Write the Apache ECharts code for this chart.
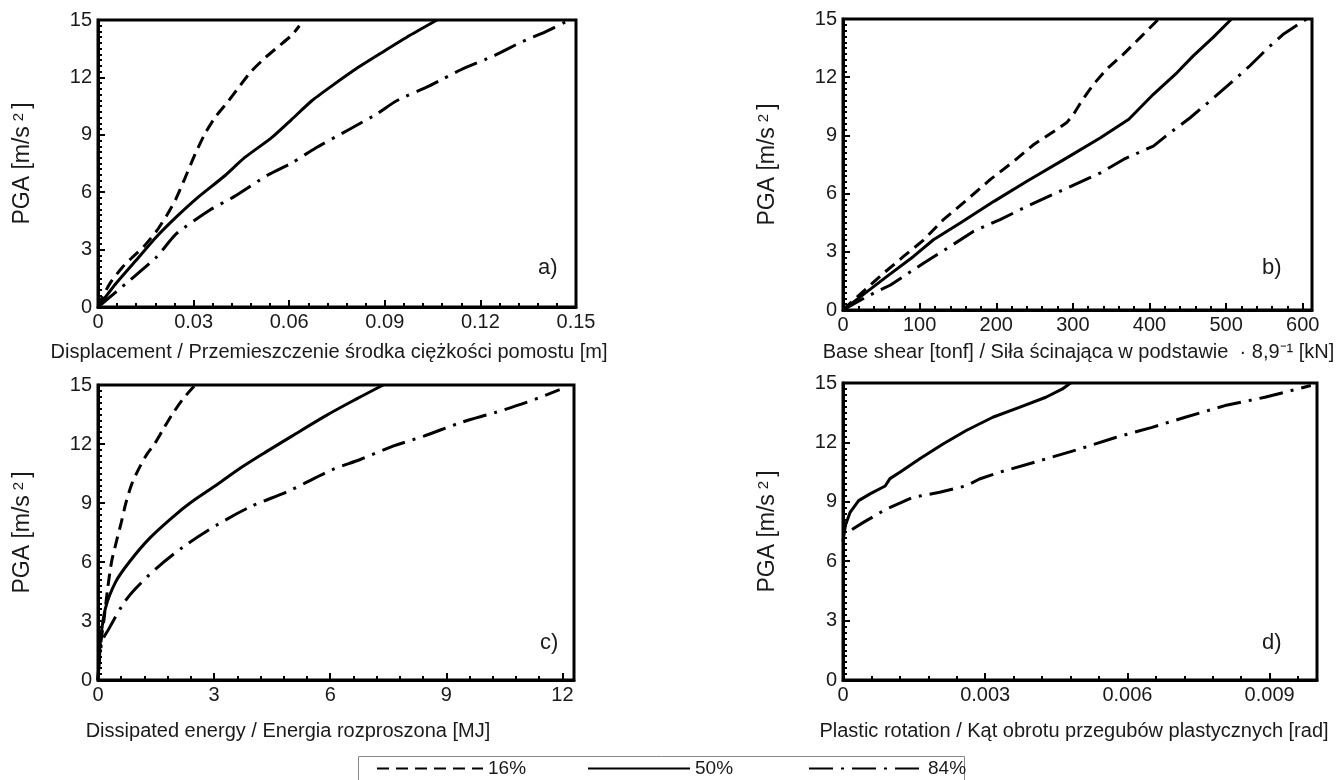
<!DOCTYPE html>
<html><head><meta charset="utf-8">
<script src="https://cdn.jsdelivr.net/npm/echarts@6/dist/echarts.min.js"></script>
<style>html,body{margin:0;padding:0;background:#fff}#c{width:1337px;height:780px}</style>
</head><body><div id="c"></div>
<script>
// ---- Panel a: displacement [m] ----
const aX16 = [0,0.0013,0.004,0.0076,0.0108,0.0146,0.0185,0.0216,0.0243,0.0272,0.0305,0.0337,0.0369,0.0406,0.0438,0.0480,0.0523,0.0565,0.0608,0.0632];
const aY16 = [0,0.5,1.3,2.07,2.6,3.2,4.0,4.8,5.6,6.7,8.0,9.1,9.95,10.7,11.4,12.3,13.0,13.6,14.2,14.7];
const aX50 = [0,0.0055,0.0119,0.0183,0.0246,0.031,0.0395,0.0459,0.0544,0.0608,0.0671,0.0735,0.081,0.0894,0.0979,0.1064];
const aY50 = [0,1.2,2.43,3.66,4.71,5.68,6.82,7.79,8.84,9.81,10.78,11.57,12.45,13.33,14.2,15.0];
const aX84 = [0,0.0098,0.0183,0.0246,0.035,0.0427,0.0533,0.0608,0.0682,0.0788,0.0873,0.0937,0.1033,0.1086,0.1139,0.1245,0.133,0.1404,0.1479];
const aY84 = [0,1.37,2.6,3.83,5.06,5.77,6.9,7.53,8.3,9.28,10.07,10.78,11.5,11.95,12.4,13.15,13.86,14.38,15];
// ---- Panel b: base shear ----
const bX16 = [0,7,31,53,79,105,131,162,192,223,249,275,292,301,312,327,344,366,388,412];
const bY16 = [0,0.26,1.12,1.9,2.76,3.6,4.66,5.69,6.72,7.67,8.53,9.2,9.66,10.1,10.8,11.64,12.41,13.19,14.05,15];
const bX50 = [0,23,57,92,118,153,197,240,292,336,373,405,436,457,483,507];
const bY50 = [0,0.69,1.72,2.76,3.62,4.48,5.6,6.64,7.84,8.88,9.83,11.12,12.24,13.1,14.05,15];
const bX84 = [0,31,62,105,140,170,205,240,288,336,366,405,427,453,479,509,531,553,574,605];
const bY84 = [0,0.69,1.29,2.41,3.28,4.05,4.66,5.34,6.21,7.07,7.76,8.45,9.14,9.91,10.78,11.81,12.59,13.45,14.2,15];
// ---- Panel c: dissipated energy [MJ] ----
const cX16 = [0,0.03,0.08,0.15,0.24,0.35,0.47,0.60,0.72,0.88,1.07,1.27,1.46,1.70,1.95,2.2,2.51];
const cY16 = [0,1.0,2.0,3.0,4.5,6.0,7.0,8.0,9.0,10.0,10.8,11.5,12.0,12.8,13.6,14.3,15];
const cX50 = [0,0.06,0.19,0.46,0.81,1.33,1.94,2.38,3.08,3.7,4.31,5.01,5.88,6.67,7.37];
const cY50 = [0,1.93,3.63,5.0,6.0,7.2,8.3,9.0,9.94,10.8,11.56,12.4,13.43,14.28,15];
const cX84 = [0,0.1,0.28,0.63,0.89,1.51,2.21,3.08,3.96,4.92,6.06,6.76,7.64,8.42,9.39,10.26,11.05,11.93];
const cY84 = [0,1.93,2.6,3.8,4.48,5.68,6.78,7.89,8.83,9.6,10.7,11.2,11.9,12.4,13.1,13.6,14.1,14.76];
// ---- Panel d: plastic rotation [rad] ----
const dX50 = [0,0.00005,0.00015,0.00033,0.00057,0.00089,0.00099,0.0012,0.00162,0.00211,0.0026,0.00316,0.00372,0.00428,0.00463,0.0048];
const dY50 = [7.0,7.8,8.47,9.06,9.4,9.8,10.17,10.49,11.17,11.92,12.6,13.27,13.77,14.28,14.7,15];
const dX84 = [0.00019,0.00043,0.00092,0.00148,0.00204,0.0026,0.00288,0.0033,0.00414,0.00498,0.00575,0.00652,0.00722,0.00806,0.0089,0.00987];
const dY84 = [7.6,7.96,8.64,9.23,9.48,9.81,10.15,10.49,11.07,11.66,12.25,12.76,13.27,13.86,14.28,14.87];

// ---- tick labels ----
const yTicks = ['0','3','6','9','12','15'];
const aTicks = ['0','0.03','0.06','0.09','0.12','0.15'];
const bTicks = ['0','100','200','300','400','500','600'];
const cTicks = ['0','3','6','9','12'];
const dTicks = ['0','0.003','0.006','0.009'];

const seriesNames = ['16%','50%','84%'];
const panelLetters = ['a)','b)','c)','d)'];
const xTitles = [
  'Displacement / Przemieszczenie środka ciężkości pomostu [m]',
  'Base shear [tonf] / Siła ścinająca w podstawie  · 8,9⁻¹ [kN]',
  'Dissipated energy / Energia rozproszona [MJ]',
  'Plastic rotation / Kąt obrotu przegubów plastycznych [rad]'
];
const yTitle = 'PGA [m/s{sup|2}]';

const FONT = '"Liberation Sans", Arial, sans-serif';
const TXT = '#1a1a1a';

function zip(xs, ys){ return xs.map((x,i)=>[x, ys[i]]); }
function labeler(labels, step){
  return function(v){
    const k = v/step, r = Math.round(k);
    if (Math.abs(k-r) < 1e-6 && r >= 0 && r < labels.length) return labels[r];
    return '';
  };
}

const grids = [
  {left:98, top:20, width:478, height:287},
  {left:843, top:19, width:469, height:291},
  {left:98, top:385, width:476, height:295},
  {left:843, top:383, width:474, height:297}
];
// gap: distance of x-axis title; pad: [left,right] padding to shift title horizontally
const xConf = [
  {max:0.15, interval:0.03, labels:aTicks, gap:35, pad:[0,16]},
  {max:612, interval:100, labels:bTicks, gap:32, pad:[2,0]},
  {max:12.3, interval:3, labels:cTicks, gap:41, pad:[0,96]},
  {max:0.01, interval:0.003, labels:dTicks, gap:41, pad:[0,12]}
];

const xAxis = [], yAxis = [];
grids.forEach((g,i)=>{
  g.show = true; g.borderWidth = 3; g.borderColor = '#000'; g.backgroundColor = '#fff';
  const xc = xConf[i];
  xAxis.push({
    type:'value', gridIndex:i, min:0, max:xc.max, interval:xc.interval,
    name: xTitles[i], nameLocation:'middle', nameGap: xc.gap,
    nameTextStyle:{fontSize:20, color:TXT, fontFamily:FONT, padding:[0, xc.pad[1], 0, xc.pad[0]]},
    axisLine:{show:true, onZero:false, lineStyle:{color:'#000', width:3}},
    axisTick:{show:true, inside:true, length:7, lineStyle:{color:'#000', width:2}},
    minorTick:{show:true, splitNumber:5, length:4, lineStyle:{color:'#000', width:2}},
    splitLine:{show:false}, minorSplitLine:{show:false},
    axisLabel:{fontSize:20, color:TXT, fontFamily:FONT, margin:5, formatter: labeler(xc.labels, xc.interval), showMaxLabel:true}
  });
  yAxis.push({
    type:'value', gridIndex:i, min:0, max:15, interval:3,
    name: yTitle, nameLocation:'middle', nameGap:64,
    nameTextStyle:{fontSize:23, color:TXT, fontFamily:FONT,
      rich:{sup:{fontSize:15, color:TXT, fontFamily:FONT, verticalAlign:'top', padding:[0,4,0,5]}}},
    axisLine:{show:true, onZero:false, lineStyle:{color:'#000', width:3}},
    axisTick:{show:true, inside:true, length:7, lineStyle:{color:'#000', width:2}},
    minorTick:{show:true, splitNumber:10, length:4, lineStyle:{color:'#000', width:2}},
    splitLine:{show:false}, minorSplitLine:{show:false},
    axisLabel:{fontSize:20, color:TXT, fontFamily:FONT, margin:6, formatter: labeler(yTicks, 3)}
  });
});

const styles = {
  '16%': {type:[12,7], width:3},
  '50%': {type:'solid', width:3},
  '84%': {type:[24,8,3,8], width:3}
};
function line(name, xs, ys, gi, smooth){
  return {
    type:'line', name:name, xAxisIndex:gi, yAxisIndex:gi,
    data: zip(xs, ys), symbol:'none', showSymbol:false, smooth: smooth||false,
    lineStyle:{color:'#000', width:styles[name].width, type:styles[name].type, cap:'butt'},
    itemStyle:{color:'#000'}, emphasis:{disabled:true}, animation:false, z:3
  };
}
const series = [
  line('16%', aX16, aY16, 0, 0.2), line('50%', aX50, aY50, 0, 0.2), line('84%', aX84, aY84, 0, 0.2),
  line('16%', bX16, bY16, 1), line('50%', bX50, bY50, 1), line('84%', bX84, bY84, 1),
  line('16%', cX16, cY16, 2, 0.3), line('50%', cX50, cY50, 2, 0.3), line('84%', cX84, cY84, 2, 0.3),
  line('50%', dX50, dY50, 3), line('84%', dX84, dY84, 3)
];

const legendPos = [
  {left:376, w:106},
  {left:587, w:102},
  {left:808, w:114}
];
const legend = seriesNames.map((n,i)=>({
  data:[n], left:legendPos[i].left, top:759, padding:0,
  itemWidth:legendPos[i].w, itemHeight:14, selectedMode:false,
  itemStyle:{opacity:0},
  textStyle:{fontSize:19, color:TXT, fontFamily:FONT}
}));

const letterPos = [[538,257],[1262,257],[540,632],[1262,632]];
const graphic = [
  {type:'rect', left:358, top:756, shape:{width:606, height:40}, style:{fill:'#fff', stroke:'#888', lineWidth:1}, z:-1, silent:true}
].concat(panelLetters.map((t,i)=>({
  type:'text', left:letterPos[i][0], top:letterPos[i][1], style:{text:t, fill:TXT, font:'22px "Liberation Sans", Arial, sans-serif'}, z:10
})));

const chart = echarts.init(document.getElementById('c'), null, {renderer:'canvas'});
chart.setOption({
  animation:false, backgroundColor:'#fff',
  textStyle:{fontFamily:FONT},
  grid: grids, xAxis: xAxis, yAxis: yAxis, series: series, legend: legend, graphic: graphic
});
</script></body></html>
